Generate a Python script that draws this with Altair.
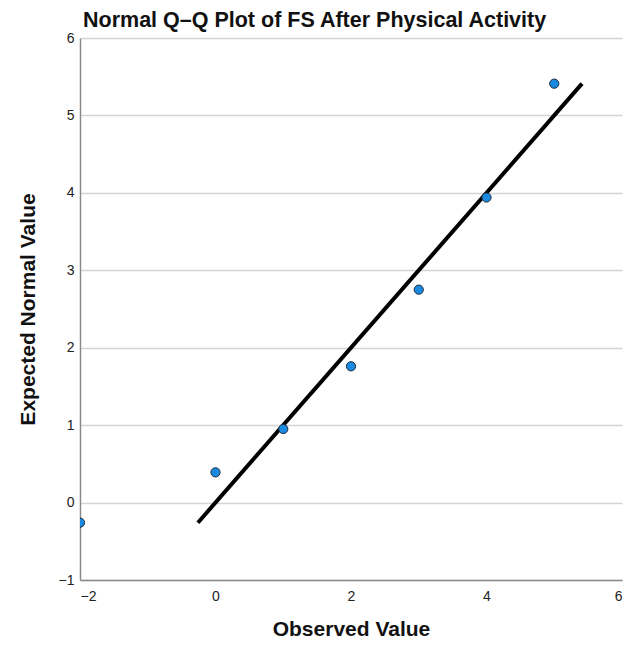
import altair as alt
import pandas as pd

observed = [-2, 0, 1, 2, 3, 4, 5]
expected = [-0.26, 0.39, 0.95, 1.76, 2.75, 3.94, 5.41]
line_x = [-0.26, 5.41]
line_y = [-0.26, 5.41]

pts = pd.DataFrame({"Observed": observed, "Expected": expected})
ln = pd.DataFrame({"Observed": line_x, "Expected": line_y})

FONT = "Liberation Sans"

xs = alt.Scale(domain=[-2, 6], nice=False, zero=False)
ys = alt.Scale(domain=[-1, 6], nice=False, zero=False)

xaxis = alt.Axis(values=[-2, 0, 2, 4, 6], format="d", grid=False, ticks=False, domainColor="#8a8a8a",
                 domainWidth=1.5, labelFontSize=14, labelColor="#222", labelPadding=9,
                 labelFont=FONT, title="Observed Value", titleFont=FONT, titleFontSize=21,
                 titleFontWeight="bold", titleColor="#111", titlePadding=15)
yaxis = alt.Axis(values=[-1, 0, 1, 2, 3, 4, 5, 6], format="d", grid=True, gridColor="#d4d4d4", gridWidth=1.5,
                 ticks=False, domainColor="#8a8a8a", domainWidth=1.5, labelFontSize=14,
                 labelColor="#222", labelPadding=6, labelFont=FONT, title="Expected Normal Value",
                 titleFont=FONT, titleFontSize=21, titleFontWeight="bold", titleColor="#111",
                 titlePadding=20)

line = alt.Chart(ln).mark_line(color="black", strokeWidth=4, clip=True).encode(
    x=alt.X("Observed:Q", scale=xs, axis=xaxis),
    y=alt.Y("Expected:Q", scale=ys, axis=yaxis),
)
points = alt.Chart(pts).mark_point(filled=True, fill="#1a8ae0", stroke="#1b2a3a", strokeWidth=1,
                                    size=85, opacity=1, clip=True).encode(
    x=alt.X("Observed:Q", scale=xs),
    y=alt.Y("Expected:Q", scale=ys),
)

chart = alt.layer(line, points).properties(
    width=542, height=542,
    title=alt.TitleParams("Normal Q–Q Plot of FS After Physical Activity", anchor="start", frame="group",
                          font=FONT, fontSize=21.5, fontWeight="bold", color="#111", offset=0, dx=3),
    autosize="none",
    padding={"left": 72, "top": 30, "right": 1, "bottom": 59},
).configure_view(stroke=None)

chart.save("out.html", embed_options={"renderer": "svg", "actions": False})
